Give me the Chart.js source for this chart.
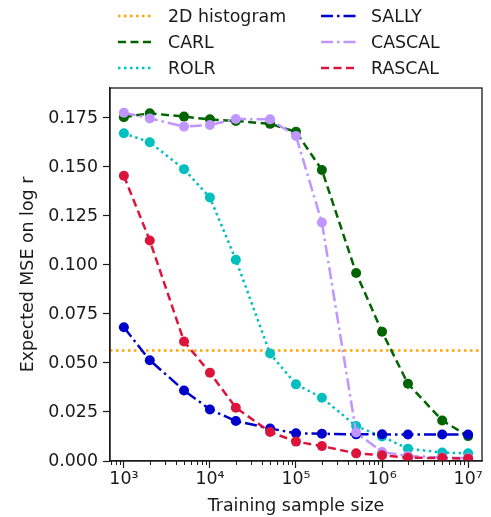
<!DOCTYPE html>
<html>
<head>
<meta charset="utf-8">
<script src="https://cdn.jsdelivr.net/npm/chart.js@4"></script>
<style>
  html, body { margin: 0; padding: 0; background: #fff; }
  #wrap { position: relative; width: 491px; height: 517px; font-family: "DejaVu Sans", sans-serif; }
  #chart { position: absolute; left: 0; top: 0; }
  .leg { position: absolute; height: 20px; display: flex; align-items: center; font-size: 17.4px; color: #1a1a1a; white-space: nowrap; }
  .leg svg { margin-right: 14px; }
</style>
</head>
<body>
<div id="wrap">
  <canvas id="chart" width="491" height="517"></canvas>
  <div id="legend"></div>
</div>
<script>
// training sample sizes
const sizes = [1e3, 2e3, 5e3, 1e4, 2e4, 5e4, 1e5, 2e5, 5e5, 1e6, 2e6, 5e6, 1e7];

// expected MSE on log r
const histValue = 0.0564;
const carl   = [0.1754, 0.1774, 0.1757, 0.1743, 0.1735, 0.1720, 0.1680, 0.1485, 0.0959, 0.0659, 0.0394, 0.0207, 0.0127];
const rolr   = [0.1672, 0.1626, 0.1489, 0.1344, 0.1027, 0.0548, 0.0391, 0.0323, 0.0178, 0.0125, 0.0063, 0.0043, 0.0039];
const sally  = [0.0682, 0.0514, 0.0360, 0.0263, 0.0204, 0.0166, 0.0141, 0.0139, 0.0136, 0.0136, 0.0135, 0.0135, 0.0135];
const cascal = [0.1777, 0.1748, 0.1706, 0.1714, 0.1745, 0.1743, 0.1658, 0.1217, 0.0145, 0.0046, 0.0026, 0.0018, 0.0015];
const rascal = [0.1455, 0.1125, 0.0610, 0.0450, 0.0272, 0.0148, 0.0099, 0.0076, 0.0039, 0.0029, 0.0017, 0.0015, 0.0012];

// axis
const xLim = [690, 1.45e7];
const yLim = [0, 0.1903];
const xMajor = [1e3, 1e4, 1e5, 1e6, 1e7];
const xTickLabels = ["10³", "10⁴", "10⁵", "10⁶", "10⁷"];
const yTicks = [0, 0.025, 0.05, 0.075, 0.1, 0.125, 0.15, 0.175];

const FONT = "DejaVu Sans";
const FS = 17.4;
const INK = "#1a1a1a";

const styles = {
  "2D histogram": { color: "#ffa500", dash: [2.5, 3.5] },
  "CARL":   { color: "#006400", dash: [8, 4.5] },
  "ROLR":   { color: "#00bfbf", dash: [2.5, 3.5] },
  "SALLY":  { color: "#0000cd", dash: [12, 4, 2.5, 4] },
  "CASCAL": { color: "#bf96ff", dash: [12, 4, 2.5, 4] },
  "RASCAL": { color: "#dc143c", dash: [8, 4.5] }
};

function series(label, values, order) {
  const s = styles[label];
  return {
    label: label,
    data: sizes.map((x, i) => ({ x: x, y: values[i] })),
    borderColor: s.color,
    backgroundColor: s.color,
    borderWidth: 2.5,
    borderDash: s.dash,
    borderCapStyle: "butt",
    pointRadius: 5,
    pointHoverRadius: 5,
    pointBorderWidth: 0,
    pointBackgroundColor: s.color,
    tension: 0,
    order: order
  };
}

const datasets = [
  {
    label: "2D histogram",
    data: [{ x: xLim[0], y: histValue }, { x: xLim[1], y: histValue }],
    borderColor: styles["2D histogram"].color,
    borderWidth: 2.5,
    borderDash: styles["2D histogram"].dash,
    borderCapStyle: "butt",
    pointRadius: 0,
    order: 6
  },
  series("CARL", carl, 5),
  series("ROLR", rolr, 4),
  series("SALLY", sally, 3),
  series("CASCAL", cascal, 2),
  series("RASCAL", rascal, 1)
];

// frame + minor log ticks
const framePlugin = {
  id: "frame",
  afterDraw(chart) {
    const a = chart.chartArea;
    const ctx = chart.ctx;
    const xs = chart.scales.x;
    ctx.save();
    ctx.strokeStyle = INK;
    ctx.lineWidth = 1.3;
    ctx.strokeRect(a.left, a.top, a.right - a.left, a.bottom - a.top);
    ctx.lineWidth = 1;
    for (let d = 2; d <= 7; d++) {
      for (let m = 2; m <= 9; m++) {
        const v = m * Math.pow(10, d);
        if (v < xLim[0] || v > xLim[1]) continue;
        const px = Math.round(xs.getPixelForValue(v)) + 0.5;
        ctx.beginPath();
        ctx.moveTo(px, a.bottom);
        ctx.lineTo(px, a.bottom + 4);
        ctx.stroke();
      }
    }
    ctx.restore();
  }
};

new Chart(document.getElementById("chart"), {
  type: "line",
  data: { datasets: datasets },
  options: {
    responsive: false,
    animation: false,
    devicePixelRatio: 1,
    layout: { padding: { top: 88, right: 9, left: 0, bottom: 0 } },
    plugins: { legend: { display: false }, tooltip: { enabled: false } },
    scales: {
      x: {
        type: "logarithmic",
        min: xLim[0],
        max: xLim[1],
        afterBuildTicks(scale) { scale.ticks = xMajor.map(v => ({ value: v })); },
        afterFit(scale) { scale.height = 56; },
        ticks: {
          autoSkip: false,
          maxRotation: 0,
          padding: 1,
          color: INK,
          font: { family: FONT, size: FS },
          callback: (v) => xTickLabels[xMajor.indexOf(v)]
        },
        grid: { drawOnChartArea: false, drawTicks: true, tickLength: 7, tickWidth: 1.2, tickColor: INK },
        border: { display: true, color: INK, width: 1.3 },
        title: { display: true, text: "Training sample size", color: INK, font: { family: FONT, size: FS }, padding: { top: 0, bottom: 0 } }
      },
      y: {
        type: "linear",
        min: yLim[0],
        max: yLim[1],
        afterBuildTicks(scale) { scale.ticks = yTicks.map(v => ({ value: v })); },
        afterFit(scale) { scale.width = 110; },
        ticks: {
          padding: 5,
          color: INK,
          font: { family: FONT, size: FS },
          callback: (v) => v.toFixed(3)
        },
        grid: { drawOnChartArea: false, drawTicks: true, tickLength: 7, tickWidth: 1.2, tickColor: INK },
        border: { display: true, color: INK, width: 1.3 },
        title: { display: true, text: "Expected MSE on log r", color: INK, font: { family: FONT, size: FS }, padding: { top: 18, bottom: 0 } }
      }
    }
  },
  plugins: [framePlugin]
});

// legend (two columns, filled column-first)
const legendRows = [
  ["2D histogram", 0, 0], ["CARL", 0, 1], ["ROLR", 0, 2],
  ["SALLY", 1, 0], ["CASCAL", 1, 1], ["RASCAL", 1, 2]
];
const colX = [118, 321];
const rowY = [16, 42, 68];
const legend = document.getElementById("legend");
legendRows.forEach(([label, c, r]) => {
  const s = styles[label];
  const el = document.createElement("div");
  el.className = "leg";
  el.style.left = colX[c] + "px";
  el.style.top = (rowY[r] - 10) + "px";
  el.innerHTML =
    '<svg width="36" height="6"><line x1="0" y1="3" x2="36" y2="3" stroke="' + s.color +
    '" stroke-width="2.5" stroke-dasharray="' + s.dash.join(" ") + '"/></svg><span>' + label + '</span>';
  legend.appendChild(el);
});
</script>
</body>
</html>
